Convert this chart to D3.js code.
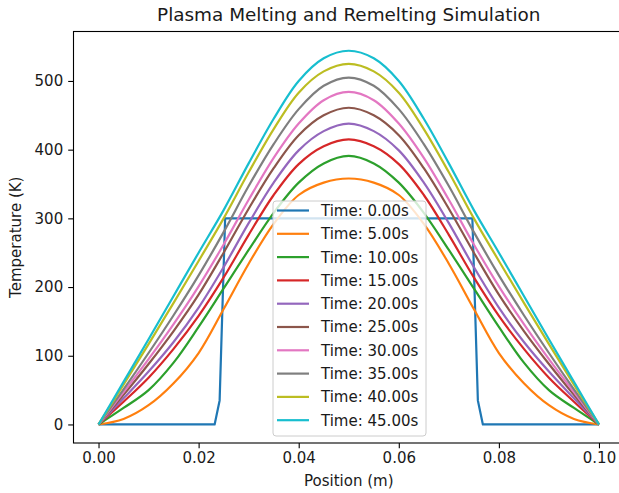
<!DOCTYPE html>
<html><head><meta charset="utf-8">
<script src="https://cdn.jsdelivr.net/npm/d3@7"></script>
<style>body{margin:0;background:#fff}svg{display:block}text{font-family:"DejaVu Sans",sans-serif;fill:#1a1a1a}</style>
</head><body>
<svg id="c" width="619" height="493"></svg>
<script>
const positions = [0,0.005,0.01,0.015,0.02,0.025,0.03,0.035,0.04,0.045,0.05,0.055,0.06,0.065,0.07,0.075,0.08,0.085,0.09,0.095,0.1];
const initialX = [0,0.0232,0.0242,0.0253,0.0747,0.0758,0.0768,0.1];
const initialT = [0,0,35,300,300,35,0,0];
const t5  = [0,8,28,60,104,168,234,292,334,352,358,352,334,292,234,168,104,60,28,8,0];
const t10 = [0,24,50,90,142,198,254,308,352,380,391,380,352,308,254,198,142,90,50,24,0];
const t15 = [0,33,68,110,158,214,276,334,379,405,415,405,379,334,276,214,158,110,68,33,0];
const t20 = [0,38,77,120,170,229,293,352,399,427,438,427,399,352,293,229,170,120,77,38,0];
const t25 = [0,43,88,136,189,250,314,373,421,450,461,450,421,373,314,250,189,136,88,43,0];
const t30 = [0,47,95,146,201,262,327,388,438,472,484,472,438,388,327,262,201,146,95,47,0];
const t35 = [0,51,104,159,217,280,347,408,459,493,505,493,459,408,347,280,217,159,104,51,0];
const t40 = [0,58,117,177,238,300,367,430,483,514,525,514,483,430,367,300,238,177,117,58,0];
const t45 = [0,62,124,187,250,312,380,445,500,533,544,533,500,445,380,312,250,187,124,62,0];
const labels = ["Time: 0.00s","Time: 5.00s","Time: 10.00s","Time: 15.00s","Time: 20.00s","Time: 25.00s","Time: 30.00s","Time: 35.00s","Time: 40.00s","Time: 45.00s"];
const colors = ["#1f77b4","#ff7f0e","#2ca02c","#d62728","#9467bd","#8c564b","#e377c2","#7f7f7f","#bcbd22","#17becf"];
const xTicks = [0,0.02,0.04,0.06,0.08,0.10];
const yTicks = [0,100,200,300,400,500];

const svg = d3.select("#c");
const L = 73.5, R = 624, T = 31.5, B = 443;
const x = d3.scaleLinear().domain([-0.005,0.105]).range([L,R]);
const y = d3.scaleLinear().domain([-27,572]).range([B,T]);

const series = [initialX.map((v,i)=>[v,initialT[i]])];
[t5,t10,t15,t20,t25,t30,t35,t40,t45].forEach(a=>series.push(positions.map((p,i)=>[p,a[i]])));

const g = svg.append("g");
series.forEach((s,i)=>{
  const line = d3.line().x(d=>x(d[0])).y(d=>y(d[1])).curve(i===0?d3.curveLinear:d3.curveCatmullRom);
  g.append("path").datum(s).attr("d",line).attr("fill","none").attr("stroke",colors[i]).attr("stroke-width",2.2).attr("stroke-linejoin","round");
});

svg.append("rect").attr("x",L).attr("y",T).attr("width",R-L).attr("height",B-T).attr("fill","none").attr("stroke","#000").attr("stroke-width",1.1);

const xa = svg.append("g").attr("transform",`translate(0,${B})`)
  .call(d3.axisBottom(x).tickValues(xTicks).tickFormat(d3.format(".2f")).tickSize(5.3).tickSizeOuter(0).tickPadding(4));
xa.select(".domain").remove();
const ya = svg.append("g").attr("transform",`translate(${L},0)`)
  .call(d3.axisLeft(y).tickValues(yTicks).tickSize(5.3).tickSizeOuter(0).tickPadding(5));
ya.select(".domain").remove();
svg.selectAll(".tick line").attr("stroke","#000").attr("stroke-width",1.1);
svg.selectAll(".tick text").attr("font-size",15).attr("font-family","DejaVu Sans").attr("fill","#1a1a1a");

svg.append("text").attr("x",(L+R)/2).attr("y",21).attr("text-anchor","middle").attr("font-size",18.4).text("Plasma Melting and Remelting Simulation");
svg.append("text").attr("x",(L+R)/2).attr("y",486).attr("text-anchor","middle").attr("font-size",15).text("Position (m)");
svg.append("text").attr("transform",`translate(21,${(T+B)/2}) rotate(-90)`).attr("text-anchor","middle").attr("font-size",15).text("Temperature (K)");

const lg = svg.append("g");
lg.append("rect").attr("x",273).attr("y",201).attr("width",153).attr("height",235).attr("rx",3)
  .attr("fill","#fff").attr("fill-opacity",0.8).attr("stroke","#ccc").attr("stroke-width",1);
labels.forEach((lab,i)=>{
  const yy = 210.5 + i*23.3;
  lg.append("line").attr("x1",277).attr("x2",309).attr("y1",yy).attr("y2",yy).attr("stroke",colors[i]).attr("stroke-width",2.2);
  lg.append("text").attr("x",321).attr("y",yy).attr("dy","0.36em").attr("font-size",15).text(lab);
});
</script>
</body></html>
